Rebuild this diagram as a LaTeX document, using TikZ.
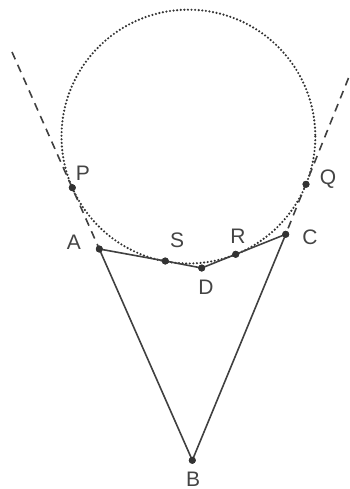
\documentclass[tikz,border=0pt]{standalone}
\usepackage{fontspec}
\setmainfont{Liberation Sans}
\definecolor{ink}{HTML}{404040}
\definecolor{dotc}{HTML}{333333}
\definecolor{txt}{HTML}{444444}
\begin{document}
\begin{tikzpicture}[x=1pt,y=-1pt,
  pt/.style={circle,fill=dotc,inner sep=0pt,minimum size=7pt},
  lab/.style={text=txt,font=\fontsize{21}{25}\selectfont,inner sep=0pt},
  seg/.style={draw=ink,line width=1.6pt},
  dashline/.style={draw=ink,line width=1.6pt,dash pattern=on 8pt off 6pt},
  dotcircle/.style={draw=dotc,line width=2.4pt,line cap=round,dash pattern=on 0pt off 3.6pt}]
\useasboundingbox (0,0) rectangle (350,489);
% circle
\draw[dotcircle] (188.4,136.6) circle (126.9);
% points
\coordinate (L0) at (12,52);
\coordinate (R0) at (348.5,78);
\node[pt] (P) at (72.3,187.7) {};
\node[pt] (Q) at (306,184.3) {};
\node[pt] (A) at (99.3,249) {};
\node[pt] (C) at (285.7,234.3) {};
\node[pt] (S) at (165.3,261) {};
\node[pt] (D) at (201.7,268) {};
\node[pt] (R) at (235.7,254.3) {};
\node[pt] (B) at (192.3,460.3) {};
% dashed tangents
\draw[dashline] (L0) -- (A.center);
\draw[dashline] (R0) -- (C.center);
% polygon
\draw[seg] (A.center) -- (S.center) -- (D.center) -- (R.center) -- (C.center) -- (B.center) -- cycle;
% redraw dots on top
\foreach \n in {P,Q,A,C,S,D,R,B} \fill[dotc] (\n) circle (3.5pt);
% labels
\node[lab] (lP) at (83,173) {P};
\node[lab] (lQ) at (328,179) {Q};
\node[lab] (lA) at (74,242) {A};
\node[lab] (lC) at (310,237) {C};
\node[lab] (lS) at (177,240) {S};
\node[lab] (lR) at (238,236) {R};
\node[lab] (lD) at (206,287) {D};
\node[lab] (lB) at (193,479) {B};
\end{tikzpicture}
\end{document}
